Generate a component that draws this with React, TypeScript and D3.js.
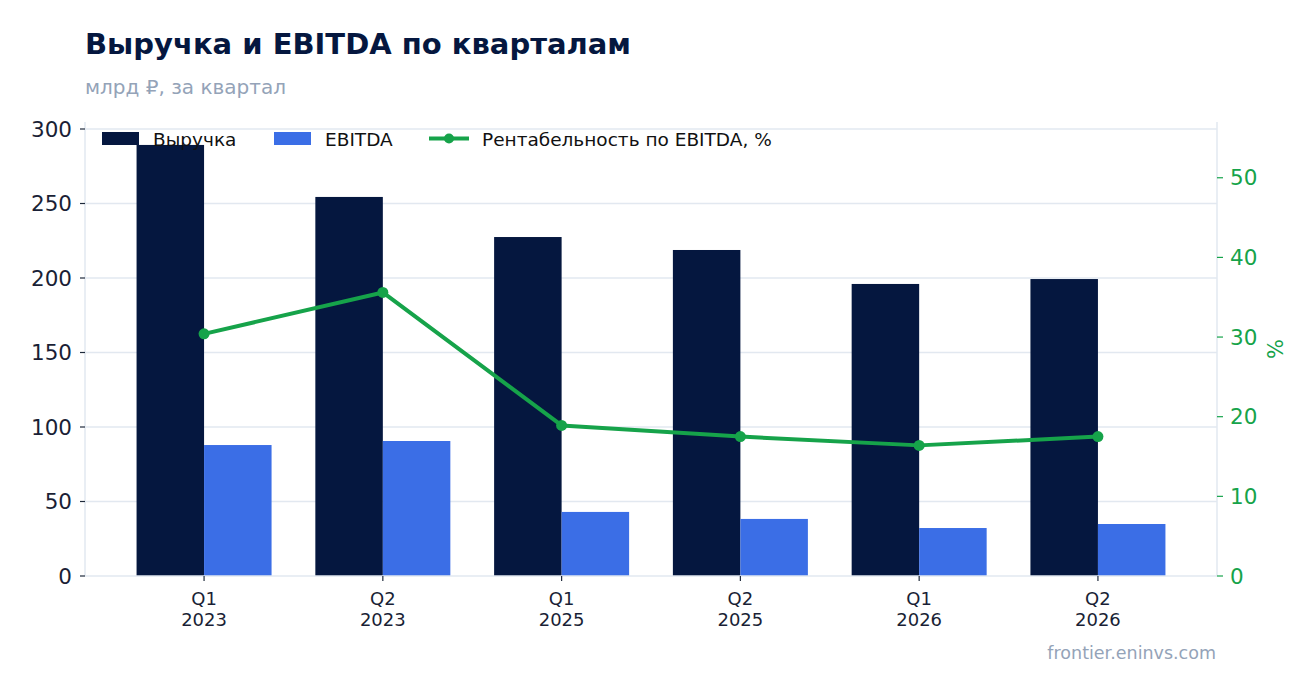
import { useEffect, useRef } from 'react'
import * as d3 from 'd3'

const quarters = ['Q1', 'Q2', 'Q1', 'Q2', 'Q1', 'Q2']
const years = ['2023', '2023', '2025', '2025', '2026', '2026']
const revenue = [289.3, 254.4, 227.5, 218.8, 196.0, 199.3]
const ebitda = [87.9, 90.6, 43.0, 38.3, 32.2, 34.9]
const margin = [30.4, 35.6, 18.9, 17.5, 16.4, 17.5]
const leftTicks = [0, 50, 100, 150, 200, 250, 300]
const rightTicks = [0, 10, 20, 30, 40, 50]

const W = 1316
const H = 693
const FONT = '"DejaVu Sans", sans-serif'
const NAVY = '#05173f'
const BLUE = '#3b6ee6'
const GREEN = '#16a34a'
const GRID = '#e2e8f0'
const MUTED = '#94a3b8'

export default function App() {
  const ref = useRef<SVGSVGElement>(null)

  useEffect(() => {
    if (!ref.current) return
    const svg = d3.select(ref.current)
    svg.selectAll('*').remove()

    const left = 85
    const right = 1217
    const top = 122
    const bottom = 576

    const labels = quarters.map((q, i) => `${q}|${years[i]}`)
    const x = d3.scalePoint<string>().domain(labels).range([left, right]).padding(0.666)
    const y = d3.scaleLinear().domain([0, 304.7]).range([bottom, top])
    const y2 = d3.scaleLinear().domain([0, 57]).range([bottom, top])
    const barW = 67.5

    // titles
    svg.append('text').attr('x', 85).attr('y', 54).text('Выручка и EBITDA по кварталам')
      .attr('font-family', FONT).attr('font-weight', 'bold').attr('font-size', 29).attr('fill', NAVY)
    svg.append('text').attr('x', 85).attr('y', 94).text('млрд ₽, за квартал')
      .attr('font-family', FONT).attr('font-size', 20).attr('fill', MUTED)
    svg.append('text').attr('x', 1216).attr('y', 659).attr('text-anchor', 'end').text('frontier.eninvs.com')
      .attr('font-family', FONT).attr('font-size', 17.5).attr('fill', MUTED)

    // grid
    svg.append('g').selectAll('line').data(leftTicks.filter(d => d > 0)).enter().append('line')
      .attr('x1', left).attr('x2', right).attr('y1', d => y(d)).attr('y2', d => y(d))
      .attr('stroke', GRID).attr('stroke-width', 1.5)

    // bars
    const bars = svg.append('g')
    bars.selectAll('rect.rev').data(revenue).enter().append('rect')
      .attr('x', (_, i) => x(labels[i])! - barW).attr('width', barW)
      .attr('y', d => y(d)).attr('height', d => bottom - y(d)).attr('fill', NAVY)
    bars.selectAll('rect.eb').data(ebitda).enter().append('rect')
      .attr('x', (_, i) => x(labels[i])!).attr('width', barW)
      .attr('y', d => y(d)).attr('height', d => bottom - y(d)).attr('fill', BLUE)

    // spines
    svg.append('line').attr('x1', left).attr('x2', left).attr('y1', top).attr('y2', bottom)
      .attr('stroke', GRID).attr('stroke-width', 1.5)
    svg.append('line').attr('x1', right).attr('x2', right).attr('y1', top).attr('y2', bottom)
      .attr('stroke', GRID).attr('stroke-width', 1.5)
    svg.append('line').attr('x1', left).attr('x2', right).attr('y1', bottom).attr('y2', bottom)
      .attr('stroke', GRID).attr('stroke-width', 1.5)

    // left axis
    const la = svg.append('g').selectAll('g').data(leftTicks).enter().append('g')
    la.append('line').attr('x1', left - 5).attr('x2', left).attr('y1', d => y(d)).attr('y2', d => y(d))
      .attr('stroke', '#1e293b').attr('stroke-width', 1.2)
    la.append('text').attr('x', left - 13).attr('y', d => y(d)).attr('dy', '0.36em')
      .attr('text-anchor', 'end').text(d => d)
      .attr('font-family', FONT).attr('font-size', 21.5).attr('fill', '#1a1f36')

    // right axis
    const ra = svg.append('g').selectAll('g').data(rightTicks).enter().append('g')
    ra.append('line').attr('x1', right).attr('x2', right + 6).attr('y1', d => y2(d)).attr('y2', d => y2(d))
      .attr('stroke', GREEN).attr('stroke-width', 1.2)
    ra.append('text').attr('x', right + 13).attr('y', d => y2(d)).attr('dy', '0.36em')
      .text(d => d).attr('font-family', FONT).attr('font-size', 21.5).attr('fill', GREEN)
    svg.append('text').attr('transform', `translate(1283,${(top + bottom) / 2}) rotate(-90)`)
      .attr('text-anchor', 'middle').text('%')
      .attr('font-family', FONT).attr('font-size', 21).attr('fill', GREEN)

    // x axis
    const xa = svg.append('g').selectAll('g').data(labels).enter().append('g')
    xa.append('line').attr('x1', d => x(d)!).attr('x2', d => x(d)!).attr('y1', bottom).attr('y2', bottom + 5)
      .attr('stroke', '#1e293b').attr('stroke-width', 1.2)
    const xt = xa.append('text').attr('text-anchor', 'middle')
      .attr('font-family', FONT).attr('font-size', 18).attr('fill', '#1a1f36')
    xt.append('tspan').attr('x', d => x(d)!).attr('y', 605).text(d => d.split('|')[0])
    xt.append('tspan').attr('x', d => x(d)!).attr('y', 626).text(d => d.split('|')[1])

    // margin line
    const line = d3.line<number>().x((_, i) => x(labels[i])!).y(d => y2(d))
    svg.append('path').datum(margin).attr('d', line).attr('fill', 'none')
      .attr('stroke', GREEN).attr('stroke-width', 4).attr('stroke-linejoin', 'round')
    svg.append('g').selectAll('circle').data(margin).enter().append('circle')
      .attr('cx', (_, i) => x(labels[i])!).attr('cy', d => y2(d)).attr('r', 5.5).attr('fill', GREEN)

    // legend
    const lg = svg.append('g').attr('font-family', FONT).attr('font-size', 18.5).attr('fill', '#111')
    lg.append('rect').attr('x', 102).attr('y', 132).attr('width', 37).attr('height', 13).attr('fill', NAVY)
    lg.append('text').attr('x', 153).attr('y', 145.5).text('Выручка')
    lg.append('rect').attr('x', 274).attr('y', 132).attr('width', 37).attr('height', 13).attr('fill', BLUE)
    lg.append('text').attr('x', 325).attr('y', 145.5).text('EBITDA')
    lg.append('line').attr('x1', 429).attr('x2', 469).attr('y1', 138.5).attr('y2', 138.5)
      .attr('stroke', GREEN).attr('stroke-width', 4)
    lg.append('circle').attr('cx', 449).attr('cy', 138.5).attr('r', 5).attr('fill', GREEN)
    lg.append('text').attr('x', 482).attr('y', 145.5).text('Рентабельность по EBITDA, %')
  }, [])

  return (
    <svg ref={ref} width={W} height={H}
      style={{ position: 'absolute', left: 0, top: 0, display: 'block', background: '#fff' }} />
  )
}
